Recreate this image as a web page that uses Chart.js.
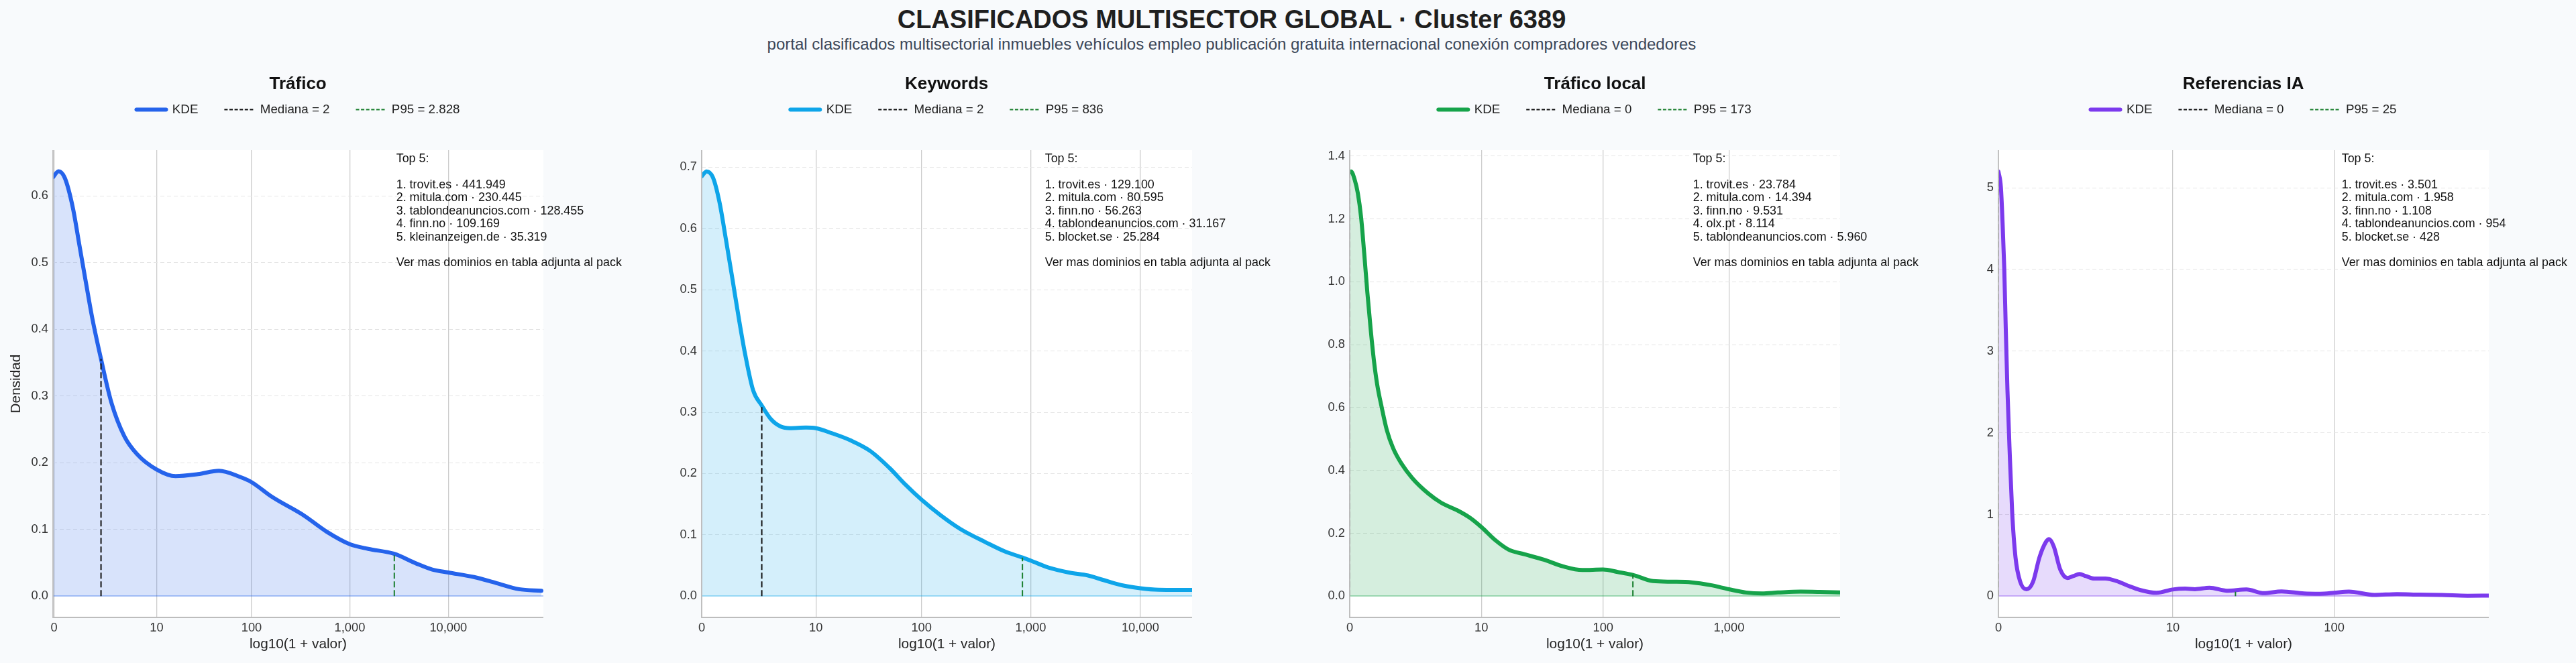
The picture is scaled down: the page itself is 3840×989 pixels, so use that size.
<!DOCTYPE html>
<html><head><meta charset="utf-8">
<script src="https://cdn.jsdelivr.net/npm/chart.js@4.4.1/dist/chart.umd.min.js"></script>
<style>
html,body{margin:0;padding:0;background:#f8fafc;width:3840px;height:989px;overflow:hidden;position:relative;font-family:'Liberation Sans',Arial,sans-serif;}
.abs{position:absolute;white-space:nowrap;}
#title{left:0;width:3672px;text-align:center;top:10px;font-size:38px;line-height:38px;font-weight:bold;color:#1f1f1f;}
#subtitle{left:0;width:3672px;text-align:center;top:54px;font-size:24px;line-height:24px;color:#3b4658;}
.ptitle{font-size:26px;line-height:26px;font-weight:bold;color:#111;text-align:center;top:111px;}
canvas{position:absolute;top:0;}
</style></head><body>
<div id="title" class="abs">CLASIFICADOS MULTISECTOR GLOBAL · Cluster 6389</div>
<div id="subtitle" class="abs">portal clasificados multisectorial inmuebles vehículos empleo publicación gratuita internacional conexión compradores vendedores</div>
<script>
// ---------------- DATA ----------------
const panelTitles = ['Tráfico', 'Keywords', 'Tráfico local', 'Referencias IA'];
const seriesColors = ['#2563eb', '#0ea5e9', '#16a34a', '#7c3aed'];
const medianLabels = ['2', '2', '0', '0'];
const p95Labels = ['2.828', '836', '173', '25'];
const medianX = [0.477, 0.548, 0, 0];
const medianY = [0.356, 0.312, 1.351, 5.20];
const p95X = [3.452, 2.925, 2.240, 1.415];
const p95Y = [0.064, 0.063, 0.0676, 0.055];

const kdeTrafico = [[-0.01,0.628],[0.046,0.637],[0.11,0.627],[0.192,0.582],[0.257,0.527],[0.322,0.472],[0.387,0.418],[0.472,0.359],[0.583,0.290],[0.713,0.240],[0.843,0.213],[1.041,0.190],[1.233,0.180],[1.461,0.183],[1.673,0.188],[1.884,0.179],[2.004,0.171],[2.21,0.149],[2.535,0.121],[2.763,0.097],[3.0,0.078],[3.187,0.071],[3.447,0.0637],[3.675,0.049],[3.837,0.040],[4.0,0.0355],[4.26,0.0287],[4.488,0.0196],[4.716,0.0105],[4.944,0.0082]];
const kdeKeywords = [[0,0.685],[0.045,0.693],[0.103,0.683],[0.162,0.643],[0.22,0.583],[0.279,0.519],[0.337,0.455],[0.396,0.395],[0.469,0.336],[0.548,0.311],[0.63,0.289],[0.717,0.277],[0.805,0.274],[0.951,0.275],[1.041,0.274],[1.185,0.266],[1.36,0.254],[1.536,0.237],[1.711,0.2095],[1.858,0.182],[2.004,0.1575],[2.179,0.132],[2.355,0.110],[2.589,0.088],[2.764,0.073],[2.925,0.063],[3.0,0.058],[3.173,0.046],[3.348,0.0386],[3.524,0.0337],[3.67,0.026],[3.846,0.0173],[4.0,0.0129],[4.167,0.0104],[4.34,0.0102],[4.472,0.0102]];
const kdeTraficoLocal = [[0,1.348],[0.01,1.351],[0.039,1.325],[0.064,1.282],[0.09,1.205],[0.115,1.089],[0.14,0.964],[0.166,0.848],[0.191,0.751],[0.217,0.674],[0.255,0.597],[0.293,0.529],[0.343,0.471],[0.407,0.423],[0.496,0.375],[0.623,0.326],[0.724,0.297],[0.851,0.273],[0.952,0.249],[1.041,0.220],[1.155,0.177],[1.257,0.148],[1.384,0.133],[1.536,0.116],[1.688,0.0946],[1.84,0.083],[2.004,0.085],[2.12,0.077],[2.24,0.0676],[2.399,0.048],[2.551,0.046],[2.703,0.044],[2.856,0.035],[3.0,0.022],[3.135,0.0116],[3.262,0.0087],[3.388,0.0116],[3.566,0.0145],[3.718,0.0135],[3.879,0.0116]];
const kdeReferenciasIA = [[0,5.20],[0.015,5.0],[0.025,4.565],[0.035,4.007],[0.044,3.264],[0.054,2.52],[0.067,1.777],[0.082,1.033],[0.102,0.476],[0.13,0.178],[0.168,0.0855],[0.207,0.178],[0.245,0.476],[0.283,0.662],[0.3025,0.699],[0.331,0.606],[0.369,0.327],[0.412,0.223],[0.446,0.245],[0.484,0.271],[0.523,0.245],[0.571,0.216],[0.637,0.216],[0.704,0.186],[0.771,0.130],[0.848,0.0743],[0.944,0.0409],[1.04,0.0818],[1.116,0.093],[1.173,0.0855],[1.26,0.104],[1.365,0.067],[1.48,0.0818],[1.585,0.037],[1.69,0.059],[1.824,0.0335],[1.92,0.03],[2.004,0.041],[2.092,0.056],[2.245,0.015],[2.379,0.026],[2.513,0.0186],[2.647,0.015],[2.8,0.005],[2.927,0.0074]];
const kdeSeries = [kdeTrafico, kdeKeywords, kdeTraficoLocal, kdeReferenciasIA];

const xTickValues = [[0,10,100,1000,10000],[0,10,100,1000,10000],[0,10,100,1000],[0,10,100]];
const xTickLabels = [['0','10','100','1,000','10,000'],['0','10','100','1,000','10,000'],['0','10','100','1,000'],['0','10','100']];
const yTickValues = [[0,0.1,0.2,0.3,0.4,0.5,0.6],[0,0.1,0.2,0.3,0.4,0.5,0.6,0.7],[0,0.2,0.4,0.6,0.8,1.0,1.2,1.4],[0,1,2,3,4,5]];
const yTickLabels = [['0.0','0.1','0.2','0.3','0.4','0.5','0.6'],['0.0','0.1','0.2','0.3','0.4','0.5','0.6','0.7'],['0.0','0.2','0.4','0.6','0.8','1.0','1.2','1.4'],['0','1','2','3','4','5']];
const xLimits = [[-0.01,4.964],[0,4.472],[0,3.879],[0,2.927]];
const yLimits = [[-0.0318,0.6687],[-0.0347,0.7277],[-0.0676,1.4186],[-0.26,5.46]];

const top5 = [
  ['1. trovit.es · 441.949','2. mitula.com · 230.445','3. tablondeanuncios.com · 128.455','4. finn.no · 109.169','5. kleinanzeigen.de · 35.319'],
  ['1. trovit.es · 129.100','2. mitula.com · 80.595','3. finn.no · 56.263','4. tablondeanuncios.com · 31.167','5. blocket.se · 25.284'],
  ['1. trovit.es · 23.784','2. mitula.com · 14.394','3. finn.no · 9.531','4. olx.pt · 8.114','5. tablondeanuncios.com · 5.960'],
  ['1. trovit.es · 3.501','2. mitula.com · 1.958','3. finn.no · 1.108','4. tablondeanuncios.com · 954','5. blocket.se · 428']
];
const top5Header = 'Top 5:';
const top5Footer = 'Ver mas dominios en tabla adjunta al pack';
const xAxisTitle = 'log10(1 + valor)';
const yAxisTitle = 'Densidad';

// ---------------- LAYOUT ----------------
const FONT = "'Liberation Sans', Arial, sans-serif";
const plotLefts = [78.6, 1045.7, 2012.2, 2978.6];
const plotW = 731;
const SIDE = 130;
const PLOT_TOP = 224, PLOT_BOTTOM = 921, H = 989;
const LEGEND_TOP = 115;

function rgba(hex, a){
  const n = parseInt(hex.slice(1), 16);
  return `rgba(${(n>>16)&255},${(n>>8)&255},${n&255},${a})`;
}

const bgPlugin = {
  id: 'plotBg',
  beforeDraw(chart){
    const a = chart.chartArea, c = chart.ctx;
    c.save(); c.fillStyle = '#ffffff';
    c.fillRect(a.left, a.top, a.right - a.left, a.bottom - a.top);
    c.restore();
  },
  afterDatasetsDraw(chart){
    const a = chart.chartArea, c = chart.ctx;
    c.save(); c.strokeStyle = '#bdbdbd'; c.lineWidth = 1.8;
    c.beginPath(); c.moveTo(a.left, a.top); c.lineTo(a.left, a.bottom); c.lineTo(a.right, a.bottom); c.stroke();
    c.restore();
  }
};
const legendHeightPlugin = {
  id: 'legendHeight',
  afterInit(chart){
    const lg = chart.legend; if (!lg) return;
    const orig = lg.fit;
    lg.fit = function(){ orig.call(this); this.height = PLOT_TOP - LEGEND_TOP; };
  }
};
function annotationPlugin(i){
  return {
    id: 'top5text',
    afterDraw(chart){
      const a = chart.chartArea, c = chart.ctx;
      const lines = [top5Header, ''].concat(top5[i], ['', top5Footer]);
      const x = a.left + 0.70 * (a.right - a.left);
      c.save(); c.fillStyle = '#111'; c.font = '17.9px ' + FONT;
      c.textAlign = 'left'; c.textBaseline = 'middle';
      lines.forEach((t, k) => { if (t) c.fillText(t, x, a.top + 13.5 + k * 19.35); });
      c.restore();
    }
  };
}

function makePanel(i){
  const color = seriesColors[i];
  const left = plotLefts[i] - SIDE;
  const W = plotW + 2 * SIDE;
  const cv = document.createElement('canvas');
  cv.width = W; cv.height = H;
  cv.style.left = left + 'px'; cv.style.width = W + 'px'; cv.style.height = H + 'px';
  document.body.appendChild(cv);

  const pt = document.createElement('div');
  pt.className = 'abs ptitle';
  pt.style.left = plotLefts[i] + 'px'; pt.style.width = plotW + 'px';
  pt.textContent = panelTitles[i];
  document.body.appendChild(pt);

  const kde = kdeSeries[i].map(p => ({x: p[0], y: p[1]}));
  const datasets = [
    {label: 'KDE', data: kde, borderColor: color, borderWidth: 6, backgroundColor: rgba(color, 0.18),
     fill: 'origin', pointRadius: 0, cubicInterpolationMode: 'monotone', borderCapStyle: 'round', borderJoinStyle: 'round', order: 3},
    {label: 'Mediana = ' + medianLabels[i], data: [{x: medianX[i], y: 0}, {x: medianX[i], y: medianY[i]}],
     borderColor: '#111', borderWidth: 2, borderDash: [9, 4], pointRadius: 0, fill: false, order: 2},
    {label: 'P95 = ' + p95Labels[i], data: [{x: p95X[i], y: 0}, {x: p95X[i], y: p95Y[i]}],
     borderColor: '#1a7f2e', borderWidth: 2, borderDash: [9, 4], pointRadius: 0, fill: false, order: 1}
  ];
  const legendStyles = [
    {strokeStyle: color, lineWidth: 6, lineDash: [], lineCap: 'round'},
    {strokeStyle: '#111', lineWidth: 2, lineDash: [5, 2.6], lineCap: 'butt'},
    {strokeStyle: '#1a7f2e', lineWidth: 2, lineDash: [5, 2.6], lineCap: 'butt'}
  ];

  new Chart(cv, {
    type: 'line',
    data: {datasets},
    options: {
      responsive: false, animation: false, events: [], devicePixelRatio: 1,
      layout: {padding: {top: LEGEND_TOP, left: 0, right: 0, bottom: 0}},
      plugins: {
        title: {display: false},
        tooltip: {enabled: false},
        legend: {
          display: true, position: 'top', align: 'center',
          labels: {
            usePointStyle: true, pointStyleWidth: 44, padding: 39,
            font: {family: FONT, size: 18.75}, color: '#222',
            generateLabels: (chart) => chart.data.datasets.map((ds, k) => Object.assign({
              text: ds.label, fillStyle: 'rgba(0,0,0,0)', pointStyle: 'line', hidden: false, datasetIndex: k, fontColor: '#222'
            }, legendStyles[k]))
          }
        }
      },
      scales: {
        x: {
          type: 'linear', position: 'bottom', min: xLimits[i][0], max: xLimits[i][1],
          afterFit: s => { s.height = H - PLOT_BOTTOM; },
          afterBuildTicks: s => { s.ticks = xTickValues[i].map(v => ({value: Math.log10(1 + v)})); },
          ticks: {autoSkip: false, maxRotation: 0, padding: 4.5, color: '#333', font: {family: FONT, size: 18.3},
                  callback: (v, idx) => xTickLabels[i][idx]},
          grid: {drawTicks: false, color: '#cccccc', lineWidth: 1.3},
          border: {display: false},
          title: {display: true, text: xAxisTitle, color: '#222', font: {family: FONT, size: 20.8}, padding: {top: 0, bottom: 15.7}}
        },
        y: {
          type: 'linear', position: 'left', min: yLimits[i][0], max: yLimits[i][1],
          afterFit: s => { s.width = SIDE; },
          afterBuildTicks: s => { s.ticks = yTickValues[i].map(v => ({value: v})); },
          ticks: {padding: 7, color: '#333', font: {family: FONT, size: 18.3},
                  callback: (v, idx) => yTickLabels[i][idx]},
          grid: {drawTicks: false,
                 color: ctx => (ctx.tick && ctx.tick.value === 0) ? rgba(color, 0.35) : '#e4e4e4',
                 lineWidth: ctx => (ctx.tick && ctx.tick.value === 0) ? 2 : 1},
          border: {display: false, dash: ctx => (ctx.tick && ctx.tick.value === 0) ? [] : [6, 4]},
          title: {display: i === 0, text: yAxisTitle, color: '#222', font: {family: FONT, size: 20.8}, padding: {top: 62.9, bottom: 0}}
        },
        yR: {
          type: 'linear', position: 'right', display: true,
          afterFit: s => { s.width = SIDE; },
          ticks: {display: false}, grid: {display: false, drawTicks: false}, border: {display: false}
        }
      }
    },
    plugins: [bgPlugin, legendHeightPlugin, annotationPlugin(i)]
  });
}
for (let i = 0; i < 4; i++) makePanel(i);
</script>
</body></html>
